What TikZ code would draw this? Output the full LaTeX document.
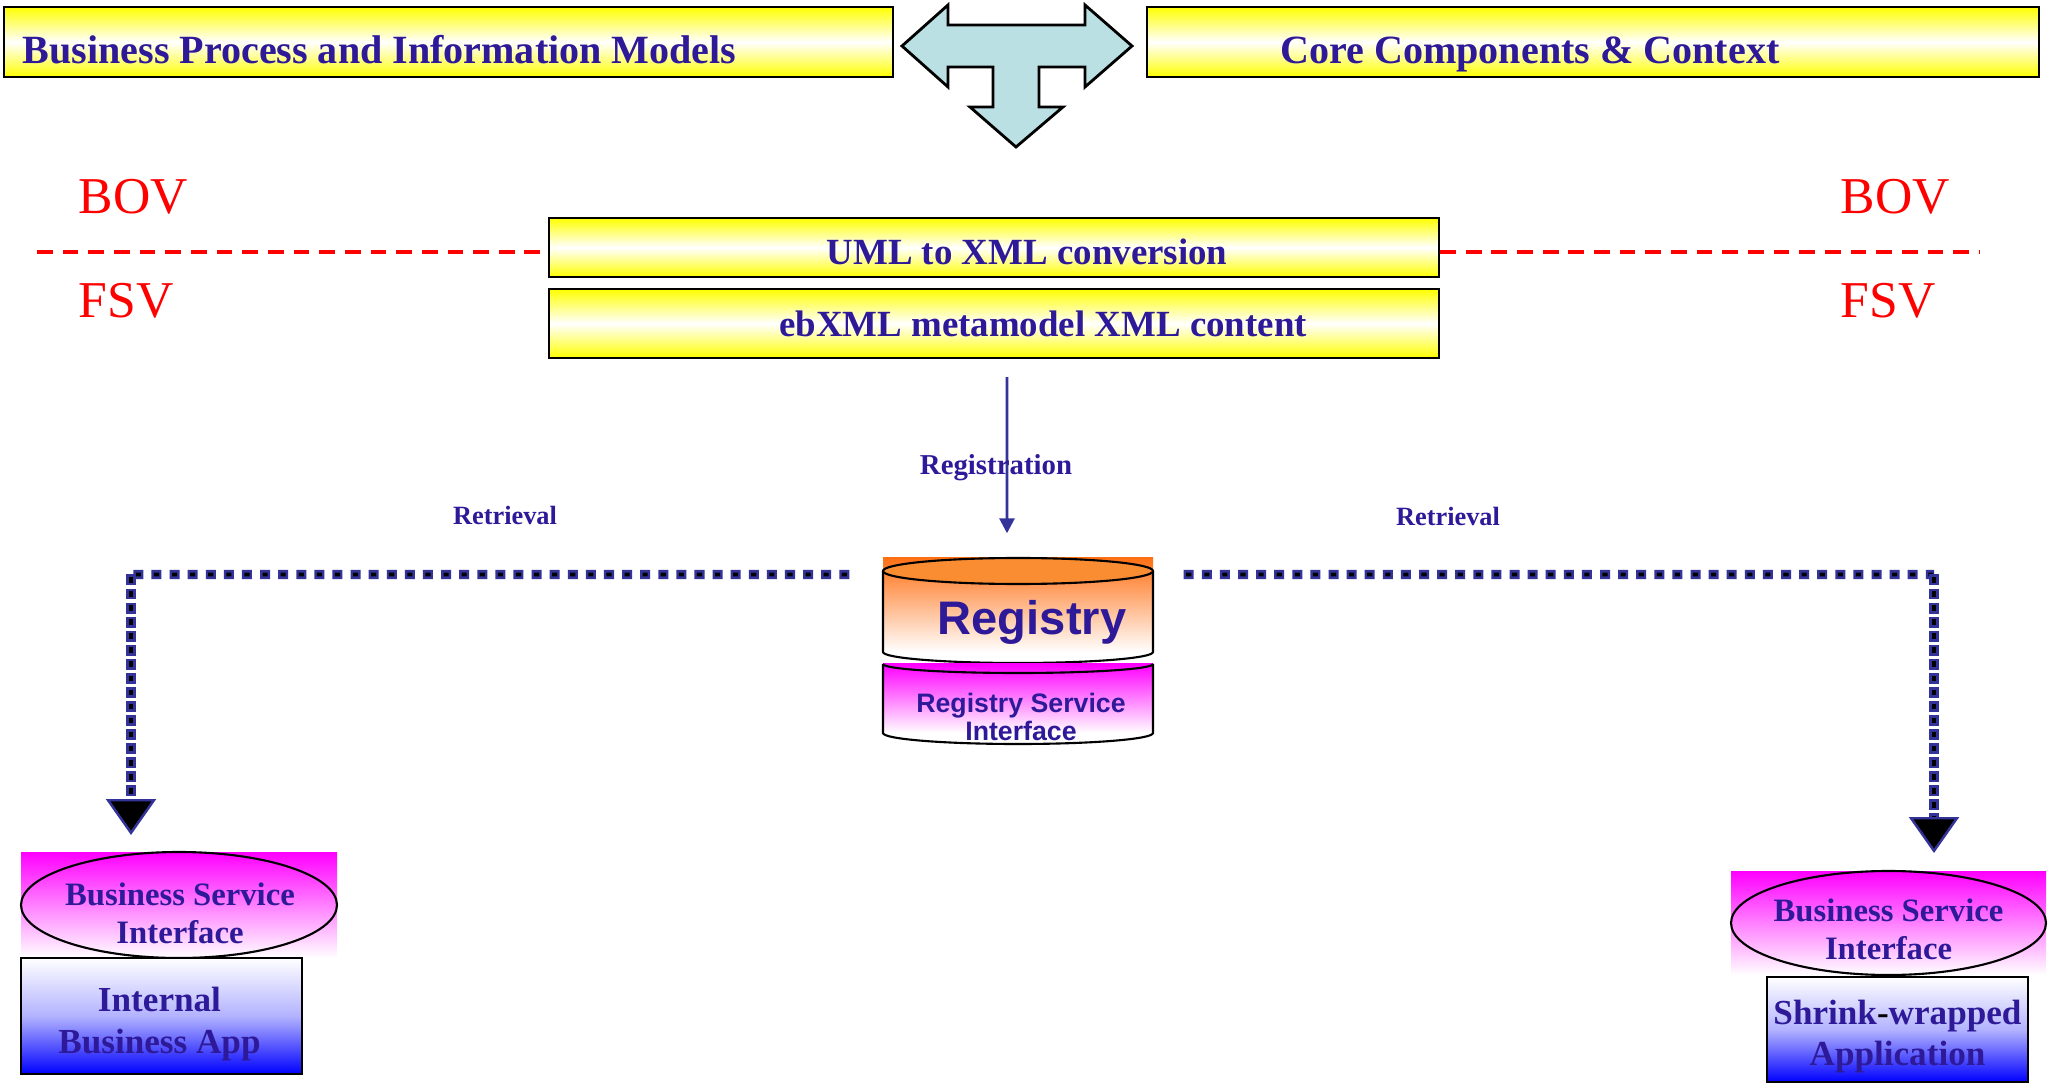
\documentclass[tikz,border=0pt]{standalone}
\usepackage{fontspec}
\setmainfont{Liberation Serif}
\setsansfont{Liberation Sans}
\usetikzlibrary{arrows.meta, positioning, calc, shapes.geometric}
\definecolor{inkblue}{RGB}{46,26,153}
\definecolor{linkblue}{RGB}{51,51,153}
\definecolor{tealpale}{RGB}{187,224,227}
\definecolor{regorange}{RGB}{255,112,20}
\definecolor{regcap}{RGB}{250,140,50}

\begin{document}
\begin{tikzpicture}[
        banner/.style={draw=black, line width=0.6pt, top color=yellow, bottom color=yellow, middle color=white, inner sep=0pt},
        bannertext/.style={font=\fontsize{11.4}{13}\selectfont\bfseries, text=inkblue, inner sep=0pt},
        stagetext/.style={font=\fontsize{10.5}{12}\selectfont\bfseries, text=inkblue, inner sep=0pt},
        viewtext/.style={font=\fontsize{14.7}{16}\selectfont, text=red, inner sep=0pt},
        flowtext/.style={font=\fontsize{8.2}{9}\selectfont\bfseries, text=inkblue, inner sep=0pt},
        viewline/.style={red, line width=0.9pt, dash pattern=on 4.5pt off 2.8pt},
        regarrow/.style={linkblue, line width=0.8pt, -{Triangle[length=0.15cm, width=0.15cm]}},
        fetchh/.style={linkblue, line width=2.6pt, dash pattern=on 2.85pt off 2.3pt, postaction={draw=black, line width=1.1pt, dash pattern=on 1.45pt off 3.7pt, dash phase=4.45pt}},
        fetchv/.style={linkblue, line width=2.8pt, dash pattern=on 3.1pt off 0.9pt, -{Triangle[length=0.36cm, width=0.5cm, line width=0.7pt, fill=black]}, postaction={draw=black, line width=1.3pt, dash pattern=on 1.6pt off 2.4pt, dash phase=3.25pt, -, shorten >=0.36cm}},
        bsi/.style={ellipse, draw=black, line width=0.6pt, inner sep=0pt},
        bsitext/.style={inner sep=0pt, align=center, font=\fontsize{9.3}{10.8}\selectfont\bfseries, text=inkblue},
        appbox/.style={draw=black, line width=0.7pt, top color=white, bottom color=blue, middle color=blue!30!white, inner sep=0pt},
        apptext/.style={inner sep=0pt, align=center, font=\fontsize{10}{11.7}\selectfont\bfseries, text=inkblue}
    ]
    \useasboundingbox (0,0) rectangle (20.49,-10.86);

    \node[banner, minimum width=8.89cm, minimum height=0.70cm] (bpim) at (4.485,-0.42) {};
    \node[bannertext, anchor=base west] (bpimtext) at (0.22,-0.64) {Business Process and Information Models};
    \node[banner, minimum width=8.92cm, minimum height=0.70cm] (cccbox) at (15.93,-0.42) {};
    \node[bannertext, anchor=base] (ccctext) at (15.30,-0.64) {Core Components \& Context};

    \draw[fill=tealpale, line width=0.8pt, line join=miter] (9.02,-0.46) -- (9.48,-0.05) -- (9.48,-0.25) -- (10.85,-0.25) -- (10.85,-0.05) -- (11.32,-0.46) -- (10.85,-0.87) -- (10.85,-0.67) -- (10.39,-0.67) -- (10.39,-1.07) -- (10.63,-1.07) -- (10.16,-1.47) -- (9.70,-1.07) -- (9.93,-1.07) -- (9.93,-0.67) -- (9.48,-0.67) -- (9.48,-0.87) -- cycle;

    \node[banner, minimum width=8.90cm, minimum height=0.59cm] (uml) at (9.94,-2.475) {};
    \node[stagetext, anchor=base] (umltext) at (10.27,-2.65) {UML to XML conversion};
    \node[banner, minimum width=8.90cm, minimum height=0.69cm] (ebxml) at (9.94,-3.235) {};
    \node[stagetext, anchor=base] (ebxmltext) at (10.43,-3.37) {ebXML metamodel XML content};

    \node[viewtext, anchor=base west] (bovleft) at (0.78,-2.14) {BOV};
    \node[viewtext, anchor=base west] (fsvleft) at (0.78,-3.18) {FSV};
    \node[viewtext, anchor=base west] (bovright) at (18.40,-2.14) {BOV};
    \node[viewtext, anchor=base west] (fsvright) at (18.40,-3.18) {FSV};
    \coordinate (bovstart) at (0.37,-2.52);
    \coordinate (bovend) at (19.80,-2.52);
    \draw[viewline] (bovstart) -- (bovstart -| uml.west);
    \draw[viewline] (bovend -| uml.east) -- (bovend);

    \node[minimum width=2.70cm, minimum height=1.05cm, inner sep=0pt] (regdb) at (10.18,-6.105) {};
    \shade[top color=regorange, bottom color=white] (8.83,-5.58) rectangle (11.53,-6.52);
    \draw[line width=0.6pt] (8.83,-5.71) -- (8.83,-6.52) arc[start angle=180, end angle=360, x radius=1.35, y radius=0.11] -- (11.53,-5.71);
    \draw[fill=regcap, line width=0.6pt] (10.18,-5.71) ellipse[x radius=1.35, y radius=0.13];
    \node[font=\fontsize{13.4}{15}\selectfont\sffamily\bfseries, text=inkblue, inner sep=0pt, anchor=base] (registry) at (10.32,-6.35) {Registry};

    \shade[top color=magenta, bottom color=white] (8.83,-6.64) rectangle (11.53,-7.33);
    \draw[line width=0.6pt] (8.83,-6.64) -- (8.83,-7.33) arc[start angle=180, end angle=360, x radius=1.35, y radius=0.11] -- (11.53,-6.64);
    \draw[line width=0.6pt] (8.83,-6.64) arc[start angle=180, end angle=360, x radius=1.35, y radius=0.09];
    \node[font=\fontsize{7.6}{8}\selectfont\sffamily\bfseries, text=inkblue, inner sep=0pt, align=center] (rsi) at (10.21,-7.17) {Registry Service\\Interface};

    \draw[regarrow] ($(ebxml.south)+(0.13,-0.18)$) -- ($(regdb.north)+(-0.11,0.24)$);
    \node[flowtext, anchor=base] (registration) at (9.96,-4.75) {Registration};
    \node[flowtext, font=\fontsize{7.5}{9}\selectfont\bfseries, anchor=base] (retrleft) at (5.05,-5.25) {Retrieval};
    \node[flowtext, font=\fontsize{7.5}{9}\selectfont\bfseries, anchor=base] (retrright) at (14.48,-5.26) {Retrieval};

    \coordinate (leftturn) at (1.31,-5.745);
    \coordinate (leftdrop) at (1.31,-8.35);
    \coordinate (rightturn) at (19.34,-5.745);
    \coordinate (rightdrop) at (19.34,-8.53);
    \draw[fetchh] ($(regdb.west)+(-0.33,0.36)$) -- (leftturn);
    \draw[fetchv] (leftturn) -- (leftdrop);
    \draw[fetchh] ($(regdb.east)+(0.30,0.36)$) -- (rightturn);
    \draw[fetchv] (rightturn) -- (rightdrop);

    \shade[top color=magenta, bottom color=white] (0.21,-8.52) rectangle (3.37,-9.58);
    \node[bsi, minimum width=3.16cm, minimum height=1.06cm] (bsileft) at (1.79,-9.05) {};
    \node[bsitext] (bsilefttext) at ($(bsileft)+(0.01,-0.08)$) {Business Service\\Interface};
    \node[appbox, minimum width=2.81cm, minimum height=1.16cm] (appleft) at (1.615,-10.16) {};
    \node[apptext] (applefttext) at ($(appleft)+(-0.02,-0.08)$) {Internal\\Business App};

    \shade[top color=magenta, bottom color=white] (17.31,-8.71) rectangle (20.46,-9.75);
    \node[bsi, minimum width=3.15cm, minimum height=1.04cm] (bsiright) at (18.885,-9.23) {};
    \node[bsitext] (bsirighttext) at ($(bsiright)+(0,-0.06)$) {Business Service\\Interface};
    \node[appbox, minimum width=2.61cm, minimum height=1.05cm] (appright) at (18.975,-10.295) {};
    \node[apptext] (apprighttext) at ($(appright)+(0,-0.07)$) {Shrink{\color{black}-}wrapped\\Application};
\end{tikzpicture}
\end{document}
